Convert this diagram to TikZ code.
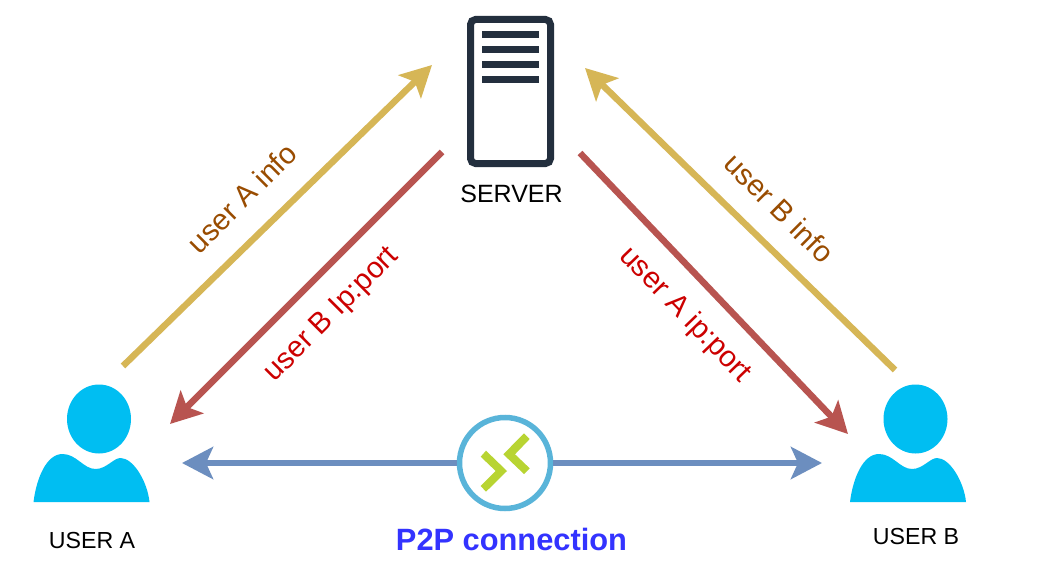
\documentclass[tikz,border=0pt]{standalone}
\usepackage{fontspec}
\setmainfont{Liberation Sans}
\usetikzlibrary{arrows.meta}
\definecolor{cyellow}{HTML}{D6B656}
\definecolor{cred}{HTML}{B85450}
\definecolor{cblue}{HTML}{6C8EBF}
\definecolor{tbrown}{HTML}{994C00}
\definecolor{tred}{HTML}{CC0000}
\definecolor{tblue}{HTML}{3333FF}
\definecolor{ink}{HTML}{232F3E}
\definecolor{ucyan}{HTML}{00BEF2}
\definecolor{ring}{HTML}{59B4D9}
\definecolor{lime}{HTML}{B8D432}
\tikzset{
  flow/.style={line width=6.5pt,-{Stealth[length=31pt,width=32pt,inset=7pt]}},
  black label/.style={font=\fontsize{23.2}{23.2}\selectfont,text=black,inner sep=0pt},
  flow label/.style={font=\fontsize{29.5}{29.5}\selectfont,inner sep=0pt},
  person/.pic={
    \fill[ucyan] (7.5,-41) ellipse[x radius=32,y radius=34.5];
    \fill[ucyan] (-58,42) .. controls (-55,18) and (-45,-6) .. (-29,-6)
       .. controls (-15,-6) and (-8,9) .. (4,9)
       .. controls (15,9) and (22,-2) .. (29,-2)
       .. controls (42,-2) and (56,22) .. (58,42) -- cycle;
  }
}
\begin{document}
\begin{tikzpicture}[x=1pt,y=-1pt]
\useasboundingbox[fill=white] (0,0) rectangle (1044,567);
% server
\node[draw=ink,line width=7pt,rounded corners=5pt,minimum width=80pt,minimum height=144pt,inner sep=0pt] (server) at (510.5,91.5) {};
\foreach \yy in {35,50,65,80}{\fill[ink] (482,\yy-3.5) rectangle (539,\yy+3.5);}
\node[black label,font=\fontsize{25}{25}\selectfont] (serverlabel) at (511.5,194) {SERVER};
% users
\pic at (91.5,460) {person};
\pic at (908,460) {person};
\node[black label] (usera) at (92,541) {USER A};
\node[black label] (userb) at (916,537) {USER B};
% hub
\node[circle,draw=ring,line width=5.5pt,fill=white,minimum size=91pt,inner sep=0pt] (hub) at (505,463) {};
\fill[lime] (480.7,456.7) -- (486,450.7) -- (507,471) -- (486,491.7) -- (480.7,486) -- (495.7,471) -- cycle;
\fill[lime] (524,433.3) -- (529.7,439) -- (515,454.3) -- (529.7,468.3) -- (524,474) -- (503.3,454.3) -- cycle;
\node[font=\bfseries\fontsize{30.8}{30.8}\selectfont,text=tblue,inner sep=0pt] (p2p) at (511.5,539.5) {P2P connection};
% connector ends
\coordinate (a1) at (123,366); \coordinate (a2) at (432,65);
\coordinate (b1) at (442,152); \coordinate (b2) at (170,424);
\coordinate (c1) at (580,153); \coordinate (c2) at (848,434);
\coordinate (d1) at (895,370); \coordinate (d2) at (585,68);
\coordinate (e1) at (182,463); \coordinate (e2) at (822,463);
\draw[flow,cyellow] (a1) -- (a2);
\draw[flow,cred] (b1) -- (b2);
\draw[flow,cred] (c1) -- (c2);
\draw[flow,cyellow] (d1) -- (d2);
\draw[flow,cblue] (hub) -- (e1);
\draw[flow,cblue] (hub) -- (e2);
% labels
\node[flow label,text=tbrown,rotate=45] (la) at (242,198) {user A info};
\node[flow label,text=tred,rotate=45] (lb) at (332,315) {user B Ip:port};
\node[flow label,text=tred,rotate=-46] (lc) at (685,315) {user A ip:port};
\node[flow label,text=tbrown,rotate=-45] (ld) at (779.5,208) {user B info};
\end{tikzpicture}
\end{document}
